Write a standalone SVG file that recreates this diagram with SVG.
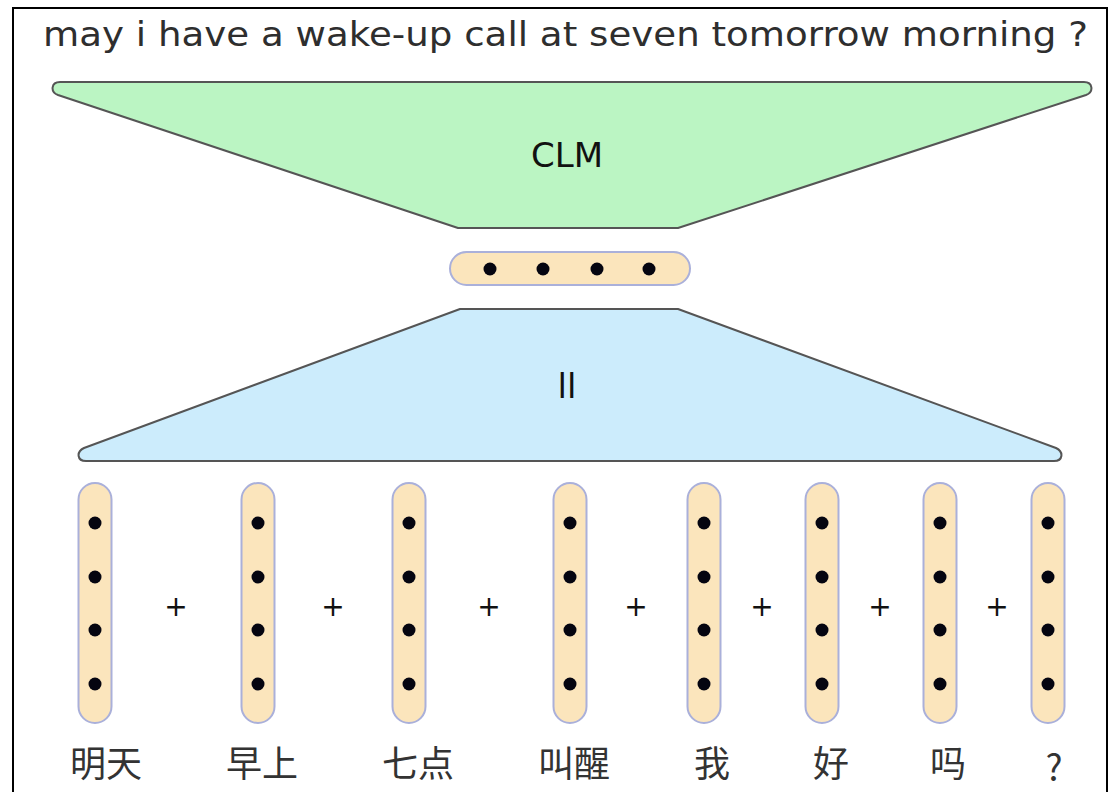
<svg xmlns="http://www.w3.org/2000/svg" width="1112" height="792" viewBox="0 0 1112 792">
  <style>
    .title { font-family: "DejaVu Sans", "Liberation Sans", sans-serif; font-size: 33px; fill: #2e2e2e; }
    .big { font-family: "DejaVu Sans", "Liberation Sans", sans-serif; font-size: 34px; fill: #111; text-anchor: middle; }
    .plus { font-family: "DejaVu Sans", "Liberation Sans", sans-serif; font-size: 28px; fill: #111; text-anchor: middle; }
    .word { font-family: "Noto Sans CJK SC", "Noto Sans", sans-serif; font-size: 36px; fill: #333; text-anchor: middle; }
    .trap { stroke: #555; stroke-width: 2; stroke-linejoin: round; }
    .vec { fill: #fbe5bc; stroke: #aab0da; stroke-width: 2; }
    .dot { fill: #050510; }
  </style>
  <defs>
    <g id="col">
      <rect class="vec" x="-16.5" y="0" width="33" height="240" rx="16.5"/>
      <circle class="dot" cx="0" cy="40" r="6.5"/>
      <circle class="dot" cx="0" cy="94" r="6.5"/>
      <circle class="dot" cx="0" cy="147" r="6.5"/>
      <circle class="dot" cx="0" cy="201" r="6.5"/>
    </g>
  </defs>

  <rect x="0" y="0" width="1112" height="792" fill="#ffffff"/>
  <!-- outer frame -->
  <rect x="13" y="8" width="1094" height="800" fill="none" stroke="#000" stroke-width="2"/>

  <text class="title" x="43" y="46" textLength="1045" lengthAdjust="spacingAndGlyphs">may i have a wake-up call at seven tomorrow morning ?</text>

  <!-- decoder -->
  <g id="clm">
    <path class="trap" fill="#bbf5c3" d="M60,82 H1084 C1093,82 1094,92 1086,95 L678,228 H458 L58,95 C50,92 51,82 60,82 Z"/>
    <text class="big" x="567" y="167">CLM</text>
  </g>

  <!-- sentence vector -->
  <g id="vector">
    <rect class="vec" x="450" y="252" width="240" height="33" rx="16.5"/>
    <circle class="dot" cx="490" cy="269" r="6.5"/>
    <circle class="dot" cx="543" cy="269" r="6.5"/>
    <circle class="dot" cx="597" cy="269" r="6.5"/>
    <circle class="dot" cx="649" cy="269" r="6.5"/>
  </g>

  <!-- encoder -->
  <g id="ll">
    <path class="trap" fill="#ccecfc" d="M460,309 H678 L1056,448 C1064,452 1063,461 1054,461 H86 C77,461 76,452 84,448 Z"/>
    <text class="big" x="567" y="398">ll</text>
  </g>

  <!-- word vectors -->
  <g id="w1"><use href="#col" x="95" y="483"/><text class="word" x="106" y="777">明天</text></g>
  <g id="w2"><use href="#col" x="258" y="483"/><text class="word" x="262" y="777">早上</text></g>
  <g id="w3"><use href="#col" x="409" y="483"/><text class="word" x="418" y="777">七点</text></g>
  <g id="w4"><use href="#col" x="570" y="483"/><text class="word" x="574" y="777">叫醒</text></g>
  <g id="w5"><use href="#col" x="704" y="483"/><text class="word" x="712" y="777">我</text></g>
  <g id="w6"><use href="#col" x="822" y="483"/><text class="word" x="831" y="777">好</text></g>
  <g id="w7"><use href="#col" x="940" y="483"/><text class="word" x="948" y="777">吗</text></g>
  <g id="w8"><use href="#col" x="1048" y="483"/><text class="word" x="1054" y="781">?</text></g>

  <!-- sums -->
  <g id="connectors">
    <text class="plus" x="176" y="616">+</text>
    <text class="plus" x="333" y="616">+</text>
    <text class="plus" x="489" y="616">+</text>
    <text class="plus" x="636" y="616">+</text>
    <text class="plus" x="762" y="616">+</text>
    <text class="plus" x="880" y="616">+</text>
    <text class="plus" x="997" y="616">+</text>
  </g>
</svg>
